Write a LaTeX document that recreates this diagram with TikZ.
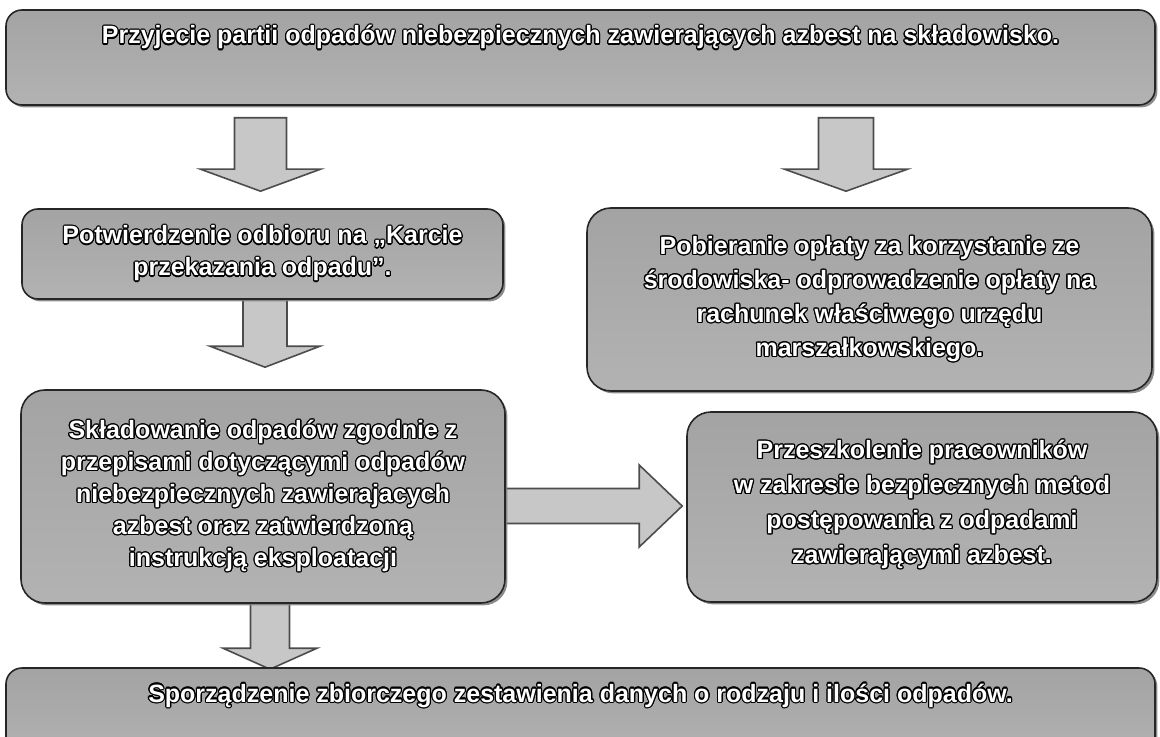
\documentclass[tikz,border=0pt]{standalone}
\usepackage{fontspec}
\setmainfont{Liberation Sans}
\usepackage[copies]{contour}
\contourlength{0.6pt}
\usepackage{tikz}
\usetikzlibrary{shapes,shadows,calc,backgrounds}
\usetikzlibrary{positioning}
\tikzstyle{box}=[draw=black!85, line width=0.8pt, rounded corners=8pt,
                top color=black!36, middle color=black!48, bottom color=black!30,
                drop shadow={shadow xshift=1.2pt, shadow yshift=-1.2pt, opacity=0.9},
                text=white, font=\fontsize{12.5}{16}\selectfont\bfseries, align=center]
\tikzstyle{bar}=[box, minimum width=574.5pt, minimum height=47.5pt,
                text height=8pt, text depth=21.5pt]
\tikzstyle{fat}=[draw=black!70, line width=0.8pt, fill=black!22]
\newcommand{\wt}[1]{\contour{black}{#1}}
% start, tip, shaft half width, head half width, head length
\newcommand{\fatdown}[5]{%
  \draw[fat] ($(#1)+(-#3,0)$) -- ($(#2)+(-#3,-#5)$) -- ($(#2)+(-#4,-#5)$) -- (#2)
    -- ($(#2)+(#4,-#5)$) -- ($(#2)+(#3,-#5)$) -- ($(#1)+(#3,0)$) -- cycle;}

\begin{document}
\begin{tikzpicture}[x=0.5pt, y=-0.5pt]
    \useasboundingbox (0,0) rectangle (1160,737);
    \node[bar] (przyjecie) at (580.5,57.5)
      {\wt{Przyjecie partii odpadów niebezpiecznych zawierających azbest na składowisko.}};
    \node[box, minimum width=240.5pt, minimum height=45pt] (odbior) at (262.5,254)
      {\wt{Potwierdzenie odbioru na „Karcie}\\ \wt{przekazania odpadu”.}};
    \node[box, minimum width=282.5pt, minimum height=91.5pt, rounded corners=12pt,
          font=\fontsize{12.5}{17}\selectfont\bfseries] (oplata) at (869.5,299.5)
      {\wt{Pobieranie opłaty za korzystanie ze}\\ \wt{środowiska- odprowadzenie opłaty na}\\
       \wt{rachunek właściwego urzędu}\\ \wt{marszałkowskiego.}};
    \node[box, minimum width=242pt, minimum height=106.5pt, rounded corners=12pt] (skladowanie) at (263,496.5)
      {\wt{Składowanie odpadów zgodnie z}\\ \wt{przepisami dotyczącymi odpadów}\\
       \wt{niebezpiecznych zawierajacych}\\ \wt{azbest oraz zatwierdzoną}\\
       \wt{instrukcją eksploatacji}};
    \node[box, minimum width=235pt, minimum height=95pt, rounded corners=12pt,
          font=\fontsize{12.5}{17.5}\selectfont\bfseries, text depth=5pt] (szkolenie) at (922,507)
      {\wt{Przeszkolenie pracowników}\\ \wt{w zakresie bezpiecznych metod}\\
       \wt{postępowania z odpadami}\\ \wt{zawierającymi azbest.}};
    \node[bar] (zestawienie) at (580.5,715.5)
      {\wt{Sporządzenie zbiorczego zestawienia danych o rodzaju i ilości odpadów.}};

    \begin{scope}[on background layer]
      \coordinate (a1s) at ($(odbior.north |- przyjecie.south)+(-2,12)$);
      \coordinate (a1t) at ($(odbior.north)+(-2,-17)$);
      \coordinate (a2s) at ($(oplata.north |- przyjecie.south)+(-23.5,12)$);
      \coordinate (a2t) at ($(oplata.north)+(-23.5,-16)$);
      \coordinate (a3s) at ($(odbior.south)+(2.5,-4)$);
      \coordinate (a3t) at ($(skladowanie.north)+(2,-22)$);
      \coordinate (a5s) at ($(skladowanie.south)+(7,-4)$);
      \coordinate (a5t) at ($(skladowanie.south |- zestawienie.north)+(7,2)$);
      \coordinate (h1) at ($(skladowanie.east)+(-4,9.5)$);
      \coordinate (h2) at ($(szkolenie.west)+(-4,-1)$);
      \fatdown{a1s}{a1t}{26}{60}{22}
      \fatdown{a2s}{a2t}{27.5}{61.5}{22}
      \fatdown{a3s}{a3t}{22}{55}{21}
      \fatdown{a5s}{a5t}{19.5}{47}{21}
      \draw[fat] ($(h1)+(0,-17.5)$) -- ($(h2)+(-43,-17.5)$) -- ($(h2)+(-43,-41)$) -- (h2)
        -- ($(h2)+(-43,41)$) -- ($(h2)+(-43,17.5)$) -- ($(h1)+(0,17.5)$) -- cycle;
    \end{scope}
\end{tikzpicture}
\end{document}
